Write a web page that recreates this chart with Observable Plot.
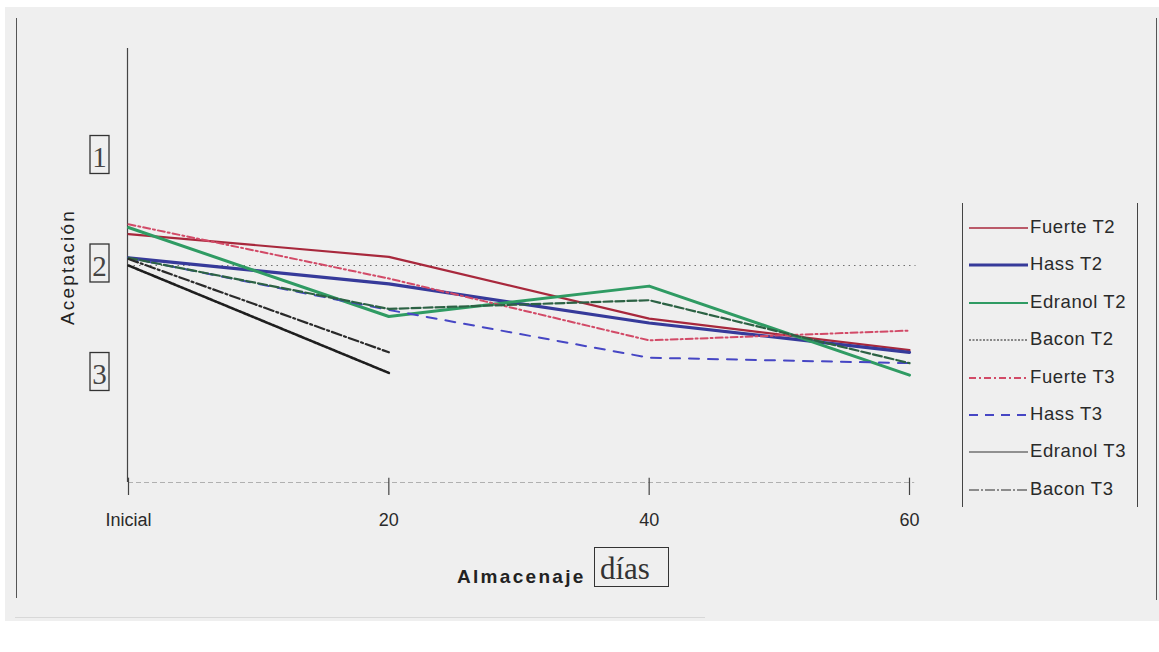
<!DOCTYPE html>
<html>
<head>
<meta charset="utf-8">
<script src="https://cdn.jsdelivr.net/npm/d3@7"></script>
<script src="https://cdn.jsdelivr.net/npm/@observablehq/plot@0.6"></script>
<style>
  body { margin: 0; background: #ffffff; }
  #wrap { position: relative; width: 1159px; height: 652px; overflow: hidden; font-family: "Liberation Sans", Arial, sans-serif; color: #2a2a2a; }
  #bg { position: absolute; left: 5px; top: 7px; width: 1154px; height: 614px; background: #efefef; }
  .vline { position: absolute; width: 0; border-left: 1.5px solid #555; }
  #chart { position: absolute; left: 0; top: 0; }
  #ylab { position: absolute; left: 68px; top: 267px; transform: translate(-50%, -50%) rotate(-90deg); font-size: 19px; letter-spacing: 2.2px; white-space: nowrap; color: #222; }
  #xlab { position: absolute; left: 457px; top: 566px; font-size: 19px; font-weight: bold; letter-spacing: 2.3px; white-space: nowrap; color: #222; }
  #unit { position: absolute; left: 594px; top: 547px; width: 75px; height: 40px; border: 1.5px solid #333; font-family: "Liberation Serif", "Times New Roman", serif; font-size: 31px; line-height: 42px; padding-left: 5px; box-sizing: border-box; white-space: nowrap; color: #333; }
  #legend { position: absolute; left: 962px; top: 203px; width: 174px; height: 304px; border-left: 1.5px solid #444; border-right: 1.5px solid #444; }
  .item { position: absolute; left: 5px; height: 24px; display: flex; align-items: center; font-size: 18.5px; letter-spacing: 0.6px; white-space: nowrap; }
  .item svg { margin-right: 2px; }
</style>
</head>
<body>
<div id="wrap">
  <div id="bg"></div>
  <div class="vline" style="left:16px; top:18px; height:580px;"></div>
  <div class="vline" style="left:1156px; top:18px; height:582px;"></div>
  <div style="position:absolute; left:15px; top:617px; width:690px; height:0; border-top:1px solid #d8d8d8;"></div>
  <div id="chart"></div>
  <div id="ylab">Aceptación</div>
  <div id="xlab">Almacenaje</div>
  <div id="unit">días</div>
  <div id="legend"></div>
</div>
<script>
// ---- data ----
const days = [0, 20, 40, 60];
const xTickLabels = ["Inicial", "20", "40", "60"];
const yTicks = [1, 2, 3];
const yTickLabels = ["1", "2", "3"];
const seriesNames = ["Fuerte T2", "Hass T2", "Edranol T2", "Bacon T2", "Fuerte T3", "Hass T3", "Edranol T3", "Bacon T3"];
const fuerteT2  = [1.71, 1.92, 2.49, 2.78];
const hassT2    = [1.93, 2.17, 2.53, 2.80];
const edranolT2 = [1.65, 2.47, 2.19, 3.01];
const baconT2   = [2.00, 2.99, null, null];
const fuerteT3  = [1.62, 2.12, 2.69, 2.60];
const hassT3    = [1.93, 2.41, 2.85, 2.90];
const edranolT3 = [1.93, 2.40, 2.32, 2.90];
const baconT3   = [1.94, 2.80, null, null];
const referenceLevel = [2];

const seriesValues = [fuerteT2, hassT2, edranolT2, baconT2, fuerteT3, hassT3, edranolT3, baconT3];

// ---- styles ----
const styles = [
  {stroke: "#a8283c", strokeWidth: 2.2, dash: null,        legendWidth: 1.6},
  {stroke: "#363a9a", strokeWidth: 3.2, dash: null,        legendWidth: 3.2},
  {stroke: "#2f9b63", strokeWidth: 3,   dash: null,        legendWidth: 1.8},
  {stroke: "#1e1e1e", strokeWidth: 2.6, dash: "3,1",       legendWidth: 1.2, legendDash: "2,1.5"},
  {stroke: "#d24a67", strokeWidth: 2,   dash: "7,3,2,3",   legendWidth: 2,   legendDash: "7,3,2,3"},
  {stroke: "#4646c4", strokeWidth: 2,   dash: "10,9",      legendWidth: 2.2, legendDash: "9,7"},
  {stroke: "#2c6244", strokeWidth: 2.2, dash: "9,3",       legendWidth: 1.2, legendStroke: "#333"},
  {stroke: "#2a2a2a", strokeWidth: 2.2, dash: "10,3,2,3",  legendWidth: 1.2, legendDash: "10,2,2,2"}
];

const rows = [];
seriesNames.forEach((name, s) => {
  seriesValues[s].forEach((v, i) => {
    if (v != null) rows.push({series: name, day: days[i], value: v});
  });
});

const lineMarks = seriesNames.map((name, s) => Plot.line(rows.filter(r => r.series === name), {
  x: "day", y: "value",
  stroke: styles[s].stroke,
  strokeWidth: styles[s].strokeWidth,
  strokeDasharray: styles[s].dash || undefined,
  strokeLinejoin: "round"
}));

const chart = Plot.plot({
  width: 1159,
  height: 652,
  marginLeft: 128,
  marginRight: 250,
  marginTop: 48,
  marginBottom: 170,
  x: {domain: [0, 60], axis: null, label: null},
  y: {domain: [0, 4], reverse: true, axis: null, label: null},
  style: {background: "transparent", fontFamily: "Liberation Sans, Arial, sans-serif", color: "#2a2a2a"},
  marks: [
    Plot.ruleY(referenceLevel, {x1: 0, x2: 60.5, stroke: "#707070", strokeWidth: 1.2, strokeDasharray: "1.5,4"}),
    Plot.ruleY([4], {x1: 0, x2: 60.4, stroke: "#b0b0b0", strokeWidth: 1.2, strokeDasharray: "5,3"}),
    Plot.ruleX([0], {y1: 0, y2: 4, stroke: "#444", strokeWidth: 1.2, dx: -1}),
    Plot.ruleX(days, {y1: 3.96, y2: 4.12, stroke: "#444", strokeWidth: 1.2}),
    Plot.axisX(days, {label: null, tickSize: 0, tickPadding: 31, fontSize: 18, tickFormat: d => xTickLabels[days.indexOf(d)]}),
    Plot.rect(yTicks, {x1: 0, x2: 0, y1: d => d - 0.175, y2: d => d + 0.175, dy: -2, insetLeft: -38, insetRight: 19, fill: "none", stroke: "#333", strokeWidth: 1.3}),
    Plot.text(yTicks, {x: 0, y: d => d, text: d => yTickLabels[yTicks.indexOf(d)], dx: -29, dy: 1, fontFamily: "Liberation Serif, Times New Roman, serif", fontSize: 29, fill: "#444"}),
    ...lineMarks
  ]
});
document.getElementById("chart").appendChild(chart);

// ---- legend ----
const legend = document.getElementById("legend");
seriesNames.forEach((name, s) => {
  const st = styles[s];
  const item = document.createElement("div");
  item.className = "item";
  item.style.top = (227 + 37.4 * s - 203 - 12) + "px";
  const dash = st.legendDash ? ` stroke-dasharray="${st.legendDash}"` : "";
  item.innerHTML = `<svg width="60" height="12"><line x1="1" x2="60" y1="7" y2="7" stroke="${st.legendStroke || st.stroke}" stroke-width="${st.legendWidth}"${dash}/></svg><span>${name}</span>`;
  legend.appendChild(item);
});
</script>
</body>
</html>
